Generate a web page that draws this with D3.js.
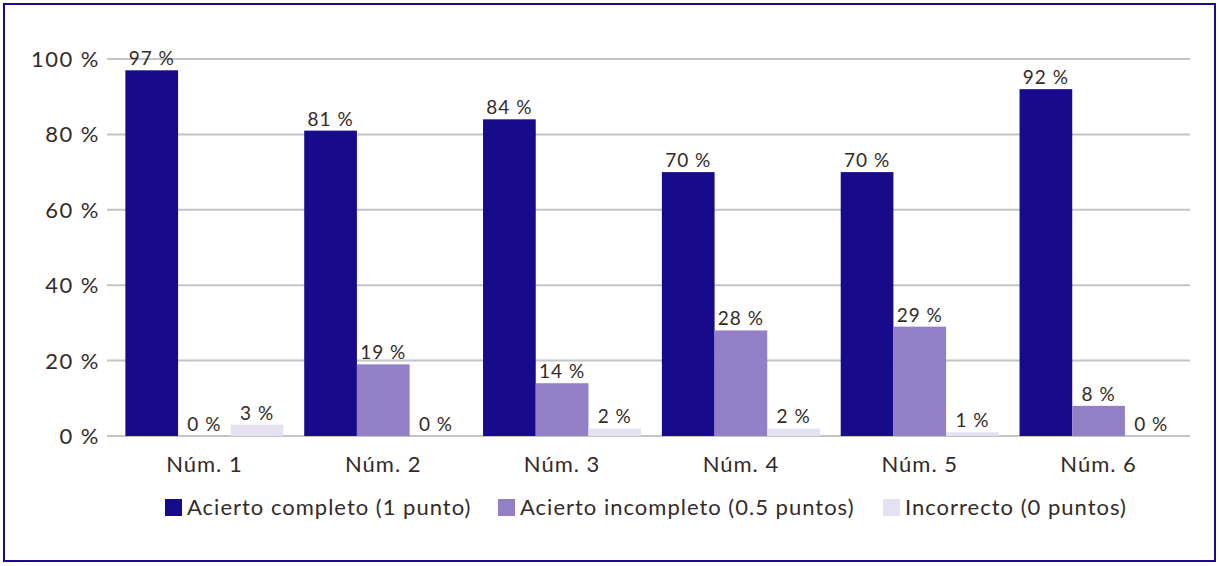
<!DOCTYPE html>
<html>
<head>
<meta charset="utf-8">
<script src="https://cdn.jsdelivr.net/npm/d3@7"></script>
<style>
  body { margin: 0; background: #fff; }
  text { font-family: Lato, "Open Sans", sans-serif; fill: #332b28; }
</style>
</head>
<body>
<div id="chart"></div>
<script>
let categories = ['Núm. 1', 'Núm. 2', 'Núm. 3', 'Núm. 4', 'Núm. 5', 'Núm. 6'];
let seriesNames = ['Acierto completo (1 punto)', 'Acierto incompleto (0.5 puntos)', 'Incorrecto (0 puntos)'];
let completo = [97, 81, 84, 70, 70, 92];
let incompleto = [0, 19, 14, 28, 29, 8];
let incorrecto = [3, 0, 2, 2, 1, 0];
let yTicks = [0, 20, 40, 60, 80, 100];
let colors = ['#170b8b', '#937fc6', '#e5e1f2'];

let series = [completo, incompleto, incorrecto];

let svg = d3.select('#chart')
    .append('svg')
    .attr('width', 1219)
    .attr('height', 566);

svg.append('rect')
    .attr('x', 4)
    .attr('y', 4)
    .attr('width', 1211)
    .attr('height', 557)
    .attr('fill', 'white')
    .attr('stroke', '#1a0a8c')
    .attr('stroke-width', 2);

let y = d3.scaleLinear().domain([0, 100]).range([436, 59]);
let x0 = d3.scaleBand().domain(categories).range([115, 1188]).paddingInner(0.116).paddingOuter(0.058);
let x1 = d3.scaleBand().domain([0, 1, 2]).range([0, x0.bandwidth()]);

// grid
svg.append('g')
    .selectAll('line')
    .data(yTicks)
    .enter()
    .append('line')
    .attr('x1', 107)
    .attr('x2', 1190)
    .attr('y1', d => y(d))
    .attr('y2', d => y(d))
    .attr('stroke', '#c4c4c4')
    .attr('stroke-width', 2);

svg.append('g')
    .selectAll('text')
    .data(yTicks)
    .enter()
    .append('text')
    .attr('x', 100)
    .attr('y', d => y(d) + 8)
    .attr('text-anchor', 'end')
    .style('font-size', '22px')
    .style('letter-spacing', '1.5px')
    .text(d => d + ' %');

// bars
let groups = svg.append('g')
    .selectAll('g')
    .data(categories)
    .enter()
    .append('g')
    .attr('transform', d => 'translate(' + x0(d) + ',0)');

groups.selectAll('rect')
    .data((d, i) => series.map((s, k) => ({k: k, v: s[i]})))
    .enter()
    .append('rect')
    .attr('x', d => x1(d.k))
    .attr('y', d => y(d.v))
    .attr('width', x1.bandwidth())
    .attr('height', d => y(0) - y(d.v))
    .attr('fill', d => colors[d.k]);

groups.selectAll('text')
    .data((d, i) => series.map((s, k) => ({k: k, v: s[i]})))
    .enter()
    .append('text')
    .attr('x', d => x1(d.k) + x1.bandwidth() / 2)
    .attr('y', d => y(d.v) - 5)
    .attr('text-anchor', 'middle')
    .style('font-size', '19px')
    .style('letter-spacing', '1px')
    .text(d => d.v + ' %');

// category labels
svg.append('g')
    .selectAll('text')
    .data(categories)
    .enter()
    .append('text')
    .attr('x', d => x0(d) + x0.bandwidth() / 2)
    .attr('y', 472)
    .attr('text-anchor', 'middle')
    .style('font-size', '22px')
    .style('letter-spacing', '1px')
    .text(d => d);

// legend
let legendX = [165, 498, 883];
let legend = svg.append('g')
    .selectAll('g')
    .data(seriesNames)
    .enter()
    .append('g')
    .attr('transform', (d, i) => 'translate(' + legendX[i] + ',499)');

legend.append('rect')
    .attr('width', 17)
    .attr('height', 17)
    .attr('fill', (d, i) => colors[i]);

legend.append('text')
    .attr('x', 22)
    .attr('y', 16)
    .style('font-size', '22px')
    .style('letter-spacing', '1px')
    .text(d => d);
</script>
</body>
</html>
